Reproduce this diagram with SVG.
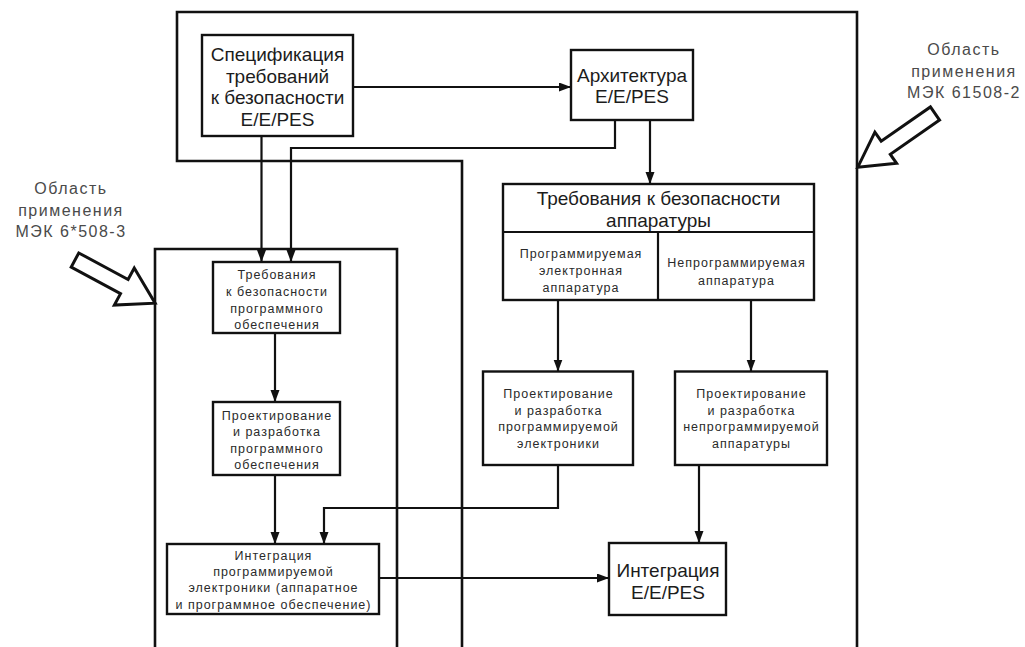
<svg xmlns="http://www.w3.org/2000/svg" width="1025" height="647" viewBox="0 0 1025 647">
<defs>
<style>
.bg{fill:#ffffff}
.box{fill:#ffffff;stroke:#111;stroke-width:2.4}
.reg{fill:none;stroke:#111;stroke-width:2.6}
.con{fill:none;stroke:#111;stroke-width:2.2}
.big{font-family:"Liberation Sans",Arial,sans-serif;font-size:19px;fill:#1c1c1c;text-anchor:middle}
.small{font-family:"Liberation Sans",Arial,sans-serif;font-size:12.5px;letter-spacing:1px;fill:#2a2a2a;text-anchor:middle}
.lbl{font-family:"Liberation Sans",Arial,sans-serif;font-size:16px;letter-spacing:1.5px;fill:#4a4a4a;text-anchor:middle}
.hollow{fill:#ffffff;stroke:#111;stroke-width:3;stroke-linejoin:miter}
</style>
<marker id="ah" markerUnits="userSpaceOnUse" markerWidth="13" markerHeight="10" refX="12" refY="4.5" orient="auto">
<path d="M0,0 L12,4.5 L0,9 z" fill="#111"/>
</marker>
</defs>
<rect class="bg" x="0" y="0" width="1025" height="647"/>

<g id="region-61508-2">
<polyline class="reg" points="462,650 462,161 177,161 177,12 857,12 857,650"/>
</g>
<g id="region-61508-3">
<polyline class="reg" points="155,650 155,249 397,249 397,650"/>
</g>

<g id="connectors">
<line class="con" x1="353" y1="87" x2="571" y2="87" marker-end="url(#ah)"/>
<line class="con" x1="261.5" y1="136" x2="261.5" y2="262" marker-end="url(#ah)"/>
<polyline class="con" points="615,120 615,148 291,148 291,262" marker-end="url(#ah)"/>
<line class="con" x1="650" y1="120" x2="650" y2="184" marker-end="url(#ah)"/>
<line class="con" x1="558" y1="300" x2="558" y2="371.5" marker-end="url(#ah)"/>
<line class="con" x1="751" y1="300" x2="751" y2="371.5" marker-end="url(#ah)"/>
<line class="con" x1="275" y1="333" x2="275" y2="402" marker-end="url(#ah)"/>
<line class="con" x1="275" y1="475" x2="275" y2="544" marker-end="url(#ah)"/>
<polyline class="con" points="558,465 558,508 324,508 324,544" marker-end="url(#ah)"/>
<line class="con" x1="699" y1="465" x2="699" y2="543" marker-end="url(#ah)"/>
<line class="con" x1="379" y1="578" x2="609" y2="578" marker-end="url(#ah)"/>
</g>

<g id="spec">
<rect class="box" x="202" y="35" width="151" height="101"/>
<text class="big" x="277.5" y="61">Спецификация</text>
<text class="big" x="277.5" y="82.5">требований</text>
<text class="big" x="277.5" y="104">к безопасности</text>
<text class="big" x="277.5" y="125.5">E/E/PES</text>
</g>

<g id="arch">
<rect class="box" x="571" y="50" width="122" height="70"/>
<text class="big" x="632" y="81.5">Архитектура</text>
<text class="big" x="632" y="103">E/E/PES</text>
</g>

<g id="hw-req">
<rect class="box" x="503" y="184" width="311" height="116"/>
<line class="con" x1="503" y1="232" x2="814" y2="232"/>
<line class="con" x1="658" y1="232" x2="658" y2="300"/>
<text class="big" x="658.5" y="204.5">Требования к безопасности</text>
<text class="big" x="658.5" y="227">аппаратуры</text>
<text class="small" x="581" y="257.5">Программируемая</text>
<text class="small" x="581" y="275">электронная</text>
<text class="small" x="581" y="292">аппаратура</text>
<text class="small" x="736.5" y="266.5">Непрограммируемая</text>
<text class="small" x="736.5" y="284.5">аппаратура</text>
</g>

<g id="prog-design">
<rect class="box" x="483" y="371.5" width="150" height="93.5"/>
<text class="small" x="558.5" y="397.5">Проектирование</text>
<text class="small" x="558.5" y="414.5">и разработка</text>
<text class="small" x="558.5" y="431">программируемой</text>
<text class="small" x="558.5" y="447.5">электроники</text>
</g>

<g id="nonprog-design">
<rect class="box" x="675" y="371.5" width="152" height="93.5"/>
<text class="small" x="751.5" y="397.5">Проектирование</text>
<text class="small" x="751.5" y="414.5">и разработка</text>
<text class="small" x="751.5" y="431">непрограммируемой</text>
<text class="small" x="751.5" y="447.5">аппаратуры</text>
</g>

<g id="ees-integration">
<rect class="box" x="609" y="543" width="117" height="72"/>
<text class="big" x="668" y="577">Интеграция</text>
<text class="big" x="668" y="598.5">E/E/PES</text>
</g>

<g id="sw-req">
<rect class="box" x="213" y="262" width="127" height="71"/>
<text class="small" x="277" y="278.5">Требования</text>
<text class="small" x="277" y="295.5">к безопасности</text>
<text class="small" x="277" y="312.5">программного</text>
<text class="small" x="277" y="329">обеспечения</text>
</g>

<g id="sw-design">
<rect class="box" x="213" y="402" width="127" height="73"/>
<text class="small" x="277" y="419.5">Проектирование</text>
<text class="small" x="277" y="436">и разработка</text>
<text class="small" x="277" y="452.5">программного</text>
<text class="small" x="277" y="469">обеспечения</text>
</g>

<g id="pe-integration">
<rect class="box" x="167" y="544" width="212" height="70"/>
<text class="small" x="273.5" y="559.5">Интеграция</text>
<text class="small" x="273.5" y="575.5">программируемой</text>
<text class="small" x="273.5" y="592">электроники (аппаратное</text>
<text class="small" x="273.5" y="608.5">и программное обеспечение)</text>
</g>

<g id="label-61508-2">
<text class="lbl" x="964" y="55">Область</text>
<text class="lbl" x="964" y="76.5">применения</text>
<text class="lbl" x="964" y="98">МЭК 61508-2</text>
<polygon class="hollow" transform="translate(935,113.5) rotate(145.2)" points="0,-8 60,-8 60,-19 94,0 60,19 60,8 0,8"/>
</g>

<g id="label-61508-3">
<text class="lbl" x="71" y="194">Область</text>
<text class="lbl" x="71" y="215.5">применения</text>
<text class="lbl" x="71" y="237">МЭК 6*508-3</text>
<polygon class="hollow" transform="translate(75,260) rotate(28.3)" points="0,-8 56,-8 56,-21 91,0 56,21 56,8 0,8"/>
</g>
</svg>
